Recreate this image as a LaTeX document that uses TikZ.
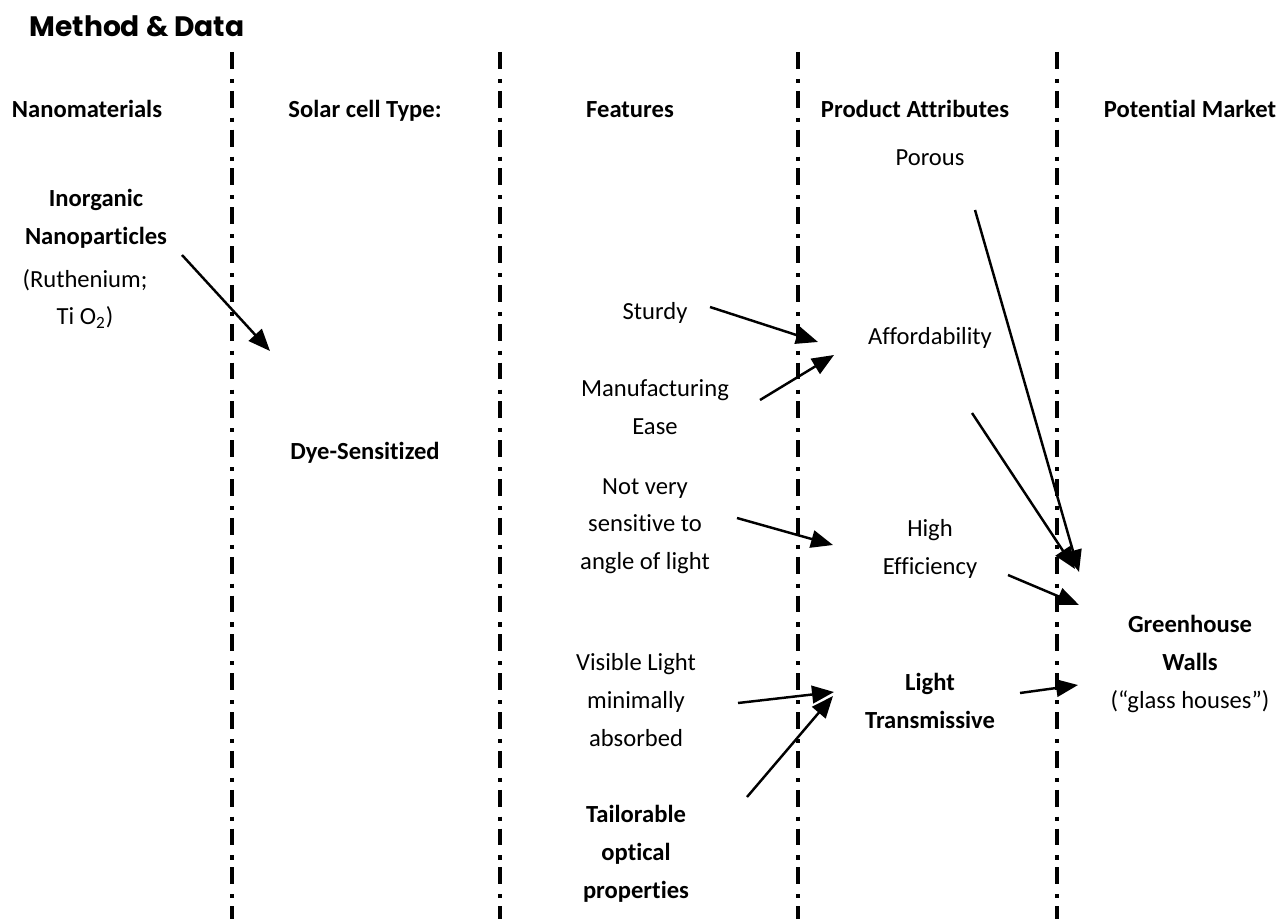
\documentclass[tikz,border=0pt]{standalone}
\usepackage{fontspec}
\setmainfont{Carlito}[Ligatures={TeX,NoCommon}]
\newfontfamily\titlefont{Poppins}
\usetikzlibrary{arrows.meta}

\begin{document}
\begin{tikzpicture}[x=0.02cm,y=-0.02cm,
    txt/.style={align=center,inner sep=0pt,font=\fontsize{14}{21.5}\selectfont},
    head/.style={txt,font=\fontsize{14}{21.5}\selectfont\bfseries},
    divider/.style={line width=2.3pt,dash pattern=on 9.6pt off 5.7pt on 2.3pt off 4.5pt},
    arr/.style={line width=1.4pt,-{Triangle[length=12.5pt,width=10pt]}}]
    \useasboundingbox (0,0) rectangle (1287,919);

    % column dividers
    \foreach \x in {232,500,798,1057}
        \draw[divider] (\x,52) -- (\x,919);

    % title and column headings
    \node[inner sep=0pt,anchor=base,font=\titlefont\fontsize{16}{20}\selectfont\bfseries] (title) at (137,37) {Method \& Data};
    \node[head,anchor=base] (h-nano) at (87,117) {Nanomaterials};
    \node[head,anchor=base] (h-cell) at (365,117) {Solar cell Type:};
    \node[head,anchor=base] (h-feat) at (630,117) {Features};
    \node[head,anchor=base] (h-attr) at (915,117) {Product Attributes};
    \node[head,anchor=base] (h-mark) at (1190,117) {Potential Market};

    % nanomaterials
    \node[head] (nano) at (96,219) {Inorganic\\Nanoparticles};
    \node[txt] (ruth) at (85,299) {(Ruthenium;\\Ti O\textsubscript{2})};

    % solar cell type
    \node[head] (dye) at (365,453) {Dye-Sensitized};

    % features
    \node[txt] (sturdy) at (655,313) {Sturdy};
    \node[txt] (manuf) at (655,407) {Manufacturing\\Ease};
    \node[txt] (angle) at (645,526) {Not very\\sensitive to\\angle of light};
    \node[txt] (visible) at (636,700) {Visible Light\\minimally\\absorbed};
    \node[head] (tailor) at (636,854) {Tailorable\\optical\\properties};

    % product attributes
    \node[txt] (porous) at (930,158) {Porous};
    \node[txt] (afford) at (930,338) {Affordability};
    \node[txt] (effic) at (930,549) {High\\Efficiency};
    \node[head] (transm) at (930,701) {Light\\Transmissive};

    % potential market
    \node[txt] (green) at (1190,664) {\textbf{Greenhouse}\\\textbf{Walls}\\(“glass houses”)};

    % arrow ends
    \coordinate (nano-out) at (182,255);
    \coordinate (dye-in) at (270,351);
    \coordinate (sturdy-out) at (710,307);
    \coordinate (manuf-out) at (760,400);
    \coordinate (afford-in1) at (818,342);
    \coordinate (afford-in2) at (834,355);
    \coordinate (angle-out) at (737,518);
    \coordinate (effic-in) at (833,545);
    \coordinate (visible-out) at (738,703);
    \coordinate (tailor-out) at (747,797);
    \coordinate (transm-in1) at (834,692);
    \coordinate (transm-in2) at (833,696);
    \coordinate (porous-out) at (975,210);
    \coordinate (afford-out) at (972,413);
    \coordinate (effic-out) at (1008,575);
    \coordinate (transm-out) at (1020,693);
    \coordinate (green-in1) at (1079,572);
    \coordinate (green-in2) at (1075,569);
    \coordinate (green-in3) at (1079,605);
    \coordinate (green-in4) at (1078,685);

    \draw[arr] (nano-out) -- (dye-in);
    \draw[arr] (sturdy-out) -- (afford-in1);
    \draw[arr] (manuf-out) -- (afford-in2);
    \draw[arr] (angle-out) -- (effic-in);
    \draw[arr] (visible-out) -- (transm-in1);
    \draw[arr] (tailor-out) -- (transm-in2);
    \draw[arr] (porous-out) -- (green-in1);
    \draw[arr] (afford-out) -- (green-in2);
    \draw[arr] (effic-out) -- (green-in3);
    \draw[arr] (transm-out) -- (green-in4);
\end{tikzpicture}
\end{document}
